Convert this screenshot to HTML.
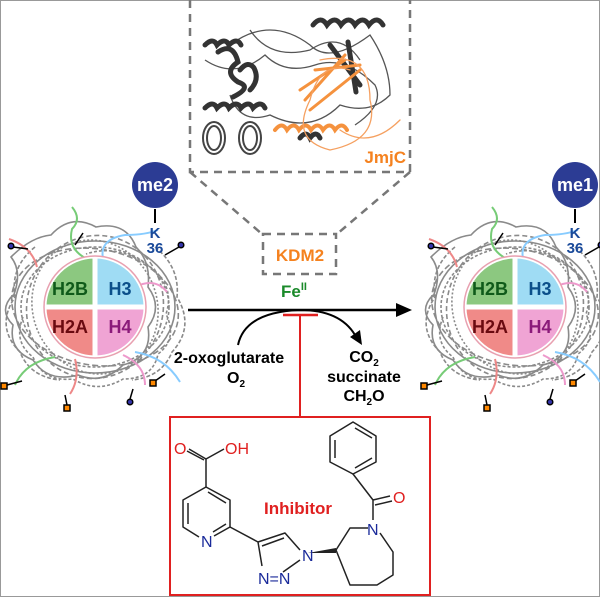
<!DOCTYPE html>
<html><head><meta charset="utf-8"><style>
body{margin:0;background:#fff}
svg{display:block;font-family:"Liberation Sans",Arial,sans-serif;font-weight:bold}
</style></head><body>
<svg width="600" height="597" viewBox="0 0 600 597" xmlns="http://www.w3.org/2000/svg">
<rect x="0.5" y="0.5" width="599" height="596" fill="#fff" stroke="#999"/>
<defs>
<g id="nuc">
  <g fill="none" stroke="#8a8a8a" stroke-width="1.6">
    <ellipse cx="0" cy="0" rx="80" ry="66"/>
    <ellipse cx="0" cy="0" rx="74" ry="60" stroke-dasharray="3 2"/>
    <ellipse cx="0" cy="0" rx="68" ry="72" stroke-dasharray="5 3" transform="rotate(20)"/>
    <ellipse cx="0" cy="0" rx="62" ry="68" stroke-dasharray="2 2" transform="rotate(-25)"/>
    <ellipse cx="0" cy="0" rx="84" ry="58" stroke-dasharray="6 3" transform="rotate(10)"/>
    <path d="M-82 -10 q10 -25 -2 -40 q20 -20 40 -22 q20 -22 45 -8 q30 -6 40 20 q15 15 12 40 q15 20 0 40 q5 30 -25 38 q-20 20 -45 10 q-30 8 -45 -15 q-25 -10 -20 -35 q-15 -15 0 -30"/>
    <path d="M-72 10 q-10 25 10 40 q10 25 40 22 q25 15 50 0 q30 0 35 -25 q20 -15 8 -40 q10 -30 -20 -50 q-30 -20 -60 -10" stroke-dasharray="3 2"/>
    <path d="M-60 -60 q-25 20 -20 50 q-20 30 5 55 q10 25 40 28" stroke-dasharray="4 2"/>
    <path d="M60 -60 q25 20 22 50 q18 30 -5 55 q-10 25 -40 28" stroke-dasharray="4 2"/>
  </g>
  <path d="M-58 -40 q-5 -20 -28 -28" fill="none" stroke="#e88" stroke-width="2"/>
  <path d="M-8 -48 q-20 -10 -15 -30 q10 -10 0 -22" fill="none" stroke="#7c7" stroke-width="2"/>
  <path d="M10 -42 q-10 -25 20 -30 q20 0 33 -5" fill="none" stroke="#8cf" stroke-width="2"/>
  <path d="M40 -20 q20 -10 32 5" fill="none" stroke="#e9c" stroke-width="2"/>
  <path d="M-40 50 q-30 5 -40 28" fill="none" stroke="#7c7" stroke-width="2"/>
  <path d="M-20 52 q5 20 -5 35" fill="none" stroke="#e88" stroke-width="2"/>
  <path d="M28 48 q22 10 22 30" fill="none" stroke="#e9c" stroke-width="2"/>
  <path d="M40 45 q30 5 45 30" fill="none" stroke="#8cf" stroke-width="2"/>
  <g stroke="#000" stroke-width="1.5">
    <line x1="-82" y1="-60" x2="-67" y2="-58"/><circle cx="-84" cy="-61" r="2.8" fill="#33a"/>
    <line x1="-12" y1="-74" x2="-20" y2="-62"/>
    <line x1="84" y1="-60" x2="70" y2="-52"/><circle cx="86" cy="-62" r="2.8" fill="#33a"/>
    <line x1="-88" y1="78" x2="-73" y2="74"/><rect x="-94" y="76" width="6" height="6" fill="#f80"/>
    <line x1="-30" y1="88" x2="-28" y2="98"/><rect x="-31" y="98" width="6" height="6" fill="#f80"/>
    <line x1="35" y1="92" x2="38" y2="82"/><circle cx="35" cy="95" r="2.8" fill="#33a"/>
    <line x1="60" y1="74" x2="70" y2="67"/><rect x="55" y="73" width="6" height="6" fill="#f80"/>
  </g>
  <g stroke="#fff" stroke-width="3">
    <path d="M-50 -1 A50 50 0 0 1 -1 -50 V-1Z" fill="#8cc880"/>
    <path d="M1 -50 A50 50 0 0 1 50 -1 H1Z" fill="#9fdcf4"/>
    <path d="M-50 1 A50 50 0 0 0 -1 50 V1Z" fill="#f08a88"/>
    <path d="M1 50 A50 50 0 0 0 50 1 H1Z" fill="#f0a4d4"/>
  </g>
  <circle r="51" fill="none" stroke="#e8a0b0" stroke-width="1.5"/>
  <g font-size="18" text-anchor="middle">
    <text x="-25" y="-12" fill="#0f5a1a">H2B</text>
    <text x="25" y="-12" fill="#0b4f8a">H3</text>
    <text x="-25" y="26" fill="#6a0a10">H2A</text>
    <text x="25" y="26" fill="#8a1a7a">H4</text>
  </g>
  <line x1="60" y1="-98" x2="60" y2="-84" stroke="#000" stroke-width="2"/>
  <text x="60" y="-69" font-size="15" fill="#1a4a9a" text-anchor="middle">K</text>
  <text x="60" y="-54" font-size="15" fill="#1a4a9a" text-anchor="middle">36</text>
</g>
</defs>
<use href="#nuc" x="95" y="307"/>
<use href="#nuc" x="515" y="307"/>
<circle cx="155" cy="185" r="23" fill="#2c3c94"/>
<text x="155" y="191" font-size="18" fill="#fff" text-anchor="middle">me2</text>
<circle cx="575" cy="185" r="23" fill="#2c3c94"/>
<text x="575" y="191" font-size="18" fill="#fff" text-anchor="middle">me1</text>

<!-- protein box -->
<g fill="none" stroke="#777" stroke-width="2.5" stroke-dasharray="8 6">
  <path d="M190 0 V172 H410 V0"/>
  <line x1="190" y1="172" x2="262" y2="234"/>
  <line x1="410" y1="172" x2="337" y2="234"/>
  <rect x="263" y="234" width="73" height="40"/>
</g>
<g fill="none" stroke="#555" stroke-width="1.3">
  <path d="M230 45 q40 -30 80 0 q20 20 60 -10 q20 30 20 60 q-20 20 -50 10 q-30 30 -70 10 q-30 10 -40 -20"/>
  <path d="M205 60 q30 20 60 -5 q20 20 50 10 q30 -10 60 20 q10 20 -20 40"/>
  <path d="M250 30 q20 30 60 20 q30 -20 50 10"/>
</g>
<g fill="none" stroke-width="5" stroke-linecap="round" stroke="#333">
  <path d="M205 45 q8 -8 12 0 q8 -8 12 0 q8 -8 12 0"/>
  <path d="M218 52 q15 -10 20 10 q-15 10 0 20 q15 5 -5 15"/>
  <path d="M240 70 q8 -10 14 -2 q6 12 -4 22"/>
  <path d="M205 108 q8 -8 12 0 q8 -8 12 0 q8 -8 12 0 q8 -8 12 0 q8 -8 12 0"/>
  <path d="M313 25 q8 -10 14 0 q8 -10 14 0 q8 -10 14 0 q8 -10 14 0 q8 -10 14 0"/>
  <path d="M330 45 l30 40 M348 42 l8 50"/>
  <path d="M300 138 q6 -8 10 0 q6 -8 10 0"/>
</g>
<g fill="none" stroke="#444" stroke-width="2">
  <ellipse cx="214" cy="138" rx="11" ry="16"/><ellipse cx="214" cy="138" rx="7" ry="12"/>
  <ellipse cx="250" cy="138" rx="11" ry="16"/><ellipse cx="250" cy="138" rx="7" ry="12"/>
</g>
<g fill="none" stroke-linecap="round">
  <path d="M275 130 q7 -9 12 0 q7 -9 12 0 q7 -9 12 0 q7 -9 12 0 q7 -9 12 0 q7 -9 12 0" stroke="#f5923e" stroke-width="4"/>
  <path d="M305 100 l40 -45 M300 90 l45 -30 M310 110 l50 -40 M315 70 l45 -5" stroke="#f5923e" stroke-width="3"/>
  <path d="M320 60 q50 -10 50 40 q10 40 -40 50 q-40 -10 -20 -50 q10 -40 40 -30 M340 130 q30 20 60 -10" stroke="#f5a060" stroke-width="1.3"/>
</g>
<text x="406" y="163" font-size="17" fill="#f5821f" text-anchor="end">JmjC</text>
<text x="300" y="261" font-size="17" fill="#f5821f" text-anchor="middle">KDM2</text>
<text x="281" y="297" font-size="17" fill="#1a8a2a">Fe<tspan font-size="11" dy="-7">II</tspan></text>

<!-- main arrow -->
<line x1="188" y1="310" x2="400" y2="310" stroke="#000" stroke-width="2.5"/>
<path d="M412 310 L396 303 L396 317Z" fill="#000"/>
<path d="M238 345 Q245 312 300 310 Q340 310 355 335" fill="none" stroke="#000" stroke-width="2"/>
<path d="M362 345 L350 337 L360 330Z" fill="#000"/>
<line x1="283" y1="315" x2="318" y2="315" stroke="#e02020" stroke-width="2.5"/>
<line x1="300" y1="315" x2="300" y2="417" stroke="#e02020" stroke-width="2"/>
<g font-size="16" fill="#000" text-anchor="middle">
  <text x="229" y="363">2-oxoglutarate</text>
  <text x="236" y="383">O<tspan font-size="10" dy="4">2</tspan></text>
  <text x="364" y="362">CO<tspan font-size="10" dy="4">2</tspan></text>
  <text x="364" y="382">succinate</text>
  <text x="364" y="401">CH<tspan font-size="10" dy="4">2</tspan><tspan dy="-4">O</tspan></text>
</g>

<!-- inhibitor -->
<rect x="170" y="417" width="260" height="178" fill="none" stroke="#e02020" stroke-width="2"/>
<text x="298" y="514" font-size="17" fill="#e02020" text-anchor="middle">Inhibitor</text>
<g stroke="#222" stroke-width="1.5" fill="none" stroke-linejoin="round">
  <!-- pyridine -->
  <path d="M214 536 L230 527 L230 500 L206 487 L183 500 L183 527 L199 537"/>
  <path d="M188 503 L188 524 M226 503 L208 492 M226 524 L213 532"/>
  <!-- COOH -->
  <path d="M206 487 L206 459 L224 449 M206 459 L189 449 M204 460 L187 451"/>
  <!-- to triazole -->
  <path d="M230 527 L258 542"/>
  <!-- triazole -->
  <path d="M258 542 L285 533 L300 550 M258 542 L262 566 M283 572 L300 560 M262 546 L284 538"/>
  <!-- piperidine -->
  <path d="M368 528 L350 528 L336 550 L350 585 L377 585 L393 575 L393 552 L380 533"/>
  <!-- carbonyl -->
  <path d="M373 520 L373 500 L353 474 M373 500 L390 496 M375 505 L392 501"/>
  <!-- benzene -->
  <path d="M353 474 L330 462 L330 436 L353 422 L376 436 L376 462 Z"/>
  <path d="M335 458 L335 440 M355 428 L372 438 M355 468 L372 458"/>
</g>
<path d="M308 553 L336 548 L336 553 Z" fill="#222"/>
<g font-size="16" font-weight="normal">
  <text x="174" y="454" fill="#e02020">O</text>
  <text x="225" y="454" fill="#e02020">OH</text>
  <text x="393" y="503" fill="#e02020">O</text>
  <text x="201" y="547" fill="#1a2a9a">N</text>
  <text x="302" y="561" fill="#1a2a9a">N</text>
  <text x="258" y="584" fill="#1a2a9a">N=N</text>
  <text x="367" y="535" fill="#1a2a9a">N</text>
</g>
</svg>
</body></html>
